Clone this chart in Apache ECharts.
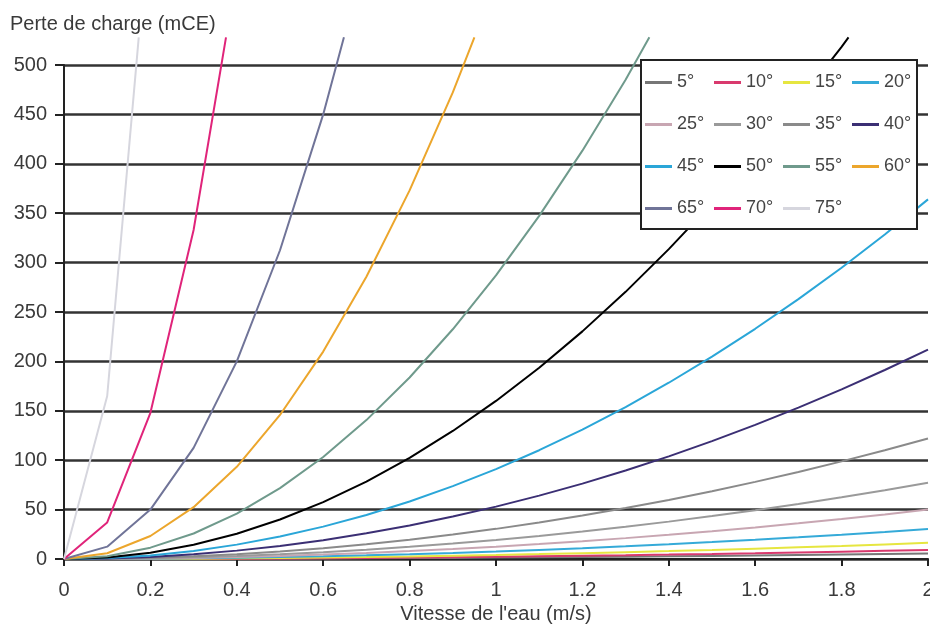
<!DOCTYPE html>
<html><head><meta charset="utf-8">
<script src="https://cdn.jsdelivr.net/npm/echarts@6/dist/echarts.min.js"></script>
<style>html,body{margin:0;padding:0;background:#fff}#c{width:930px;height:636px}</style>
</head><body><div id="c"></div>
<script>
// Vitesse de l'eau (m/s)
const vitesse = [0,0.1,0.2,0.3,0.4,0.5,0.6,0.7,0.8,0.9,1.0,1.1,1.2,1.3,1.4,1.5,1.6,1.7,1.8,1.9,2.0];
const degres = ['5°','10°','15°','20°','25°','30°','35°','40°','45°','50°','55°','60°','65°','70°','75°'];
// Perte de charge (mCE)
const p5  = [0,0.01,0.06,0.13,0.22,0.35,0.5,0.69,0.9,1.13,1.4,1.69,2.02,2.37,2.74,3.15,3.58,4.05,4.54,5.05,5.6];
const p10 = [0,0.02,0.09,0.21,0.37,0.58,0.83,1.13,1.47,1.86,2.3,2.78,3.31,3.89,4.51,5.18,5.89,6.65,7.45,8.3,9.2];
const p15 = [0,0.04,0.16,0.37,0.66,1.03,1.48,2.01,2.62,3.32,4.1,4.96,5.9,6.93,8.04,9.23,10.5,11.85,13.28,14.8,16.4];
const p20 = [0,0.08,0.3,0.68,1.22,1.9,2.74,3.72,4.86,6.16,7.6,9.2,10.94,12.84,14.9,17.1,19.46,21.96,24.62,27.44,30.4];
const p25 = [0,0.13,0.5,1.13,2,3.13,4.5,6.13,8,10.13,12.5,15.13,18,21.13,24.5,28.13,32,36.13,40.5,45.13,50];
const p30 = [0,0.19,0.77,1.74,3.09,4.83,6.95,9.46,12.35,15.63,19.3,23.35,27.79,32.62,37.83,43.43,49.41,55.78,62.53,69.67,77.2];
const p35 = [0,0.31,1.22,2.75,4.88,7.63,10.98,14.95,19.52,24.71,30.5,36.91,43.92,51.55,59.78,68.63,78.08,88.15,98.82,110.1,122];
const p40 = [0,0.53,2.12,4.77,8.48,13.25,19.08,25.97,33.92,42.93,53,64.13,76.32,89.57,103.9,119.3,135.7,153.2,171.7,191.3,212];
const p45 = [0,0.91,3.64,8.19,14.56,22.75,32.76,44.59,58.24,73.71,91,110.1,131,153.8,178.4,204.8,233,263,294.8,328.5,364];
const p50 = [0,1.6,6.4,14.4,25.6,40,57.6,78.4,102.4,129.6,160,193.6,230.4,270.4,313.6,360,409.6,462.4,518.4];
const p55 = [0,2.87,11.48,25.83,45.92,71.75,103.3,140.6,183.7,232.5,287,347.3,413.3,485];
const p60 = [0,5.83,23.32,52.47,93.28,145.8,209.9,285.7,373.1,472.2];
const p65 = [0,12.5,50,112.5,200,312.5,450];
const p70 = [0,37,148,333];
const p75 = [0,165];
// point where each steep curve leaves the top of the picture
const sortieX = [null,null,null,null,null,null,null,null,null,1.816,1.355,0.95,0.648,0.375,0.173];
const sortieY = 528;
const couleurs = ['#767676','#d93a6e','#e6e640','#35aad8','#c8a6b2','#9a9a9a','#8a8a8a','#3b2f74','#2aa6d8','#000000','#6f9a8c','#eca62c','#707498','#e0247a','#d6d6de'];
const yTicks = {min:0, max:500, step:50};
const xTicks = {min:0, max:2, step:0.2};

const valeurs = [p5,p10,p15,p20,p25,p30,p35,p40,p45,p50,p55,p60,p65,p70,p75];
const FONT = 'Liberation Sans, Arial, sans-serif';

const series = valeurs.map((vals, i) => {
  const data = vals.map((y, j) => [vitesse[j], y]);
  if (sortieX[i] !== null) data.push([sortieX[i], sortieY]);
  return {
    name: degres[i], type: 'line', data: data, symbol: 'none', clip: false,
    lineStyle: {color: couleurs[i], width: 2}, itemStyle: {color: couleurs[i]},
    emphasis: {disabled: true}, animation: false, z: 2
  };
});

const chart = echarts.init(document.getElementById('c'), null, {renderer: 'canvas'});
chart.setOption({
  animation: false,
  backgroundColor: '#ffffff',
  title: {text: 'Perte de charge (mCE)', left: 10, top: 14, padding: 0,
    textStyle: {fontFamily: FONT, fontSize: 20, fontWeight: 'normal', color: '#3a3a3a'}},
  grid: {left: 64, right: 2, top: 65, bottom: 77, containLabel: false, outerBoundsMode: 'none'},
  legend: {
    left: 641, top: 60, width: 272, padding: [5, 3, 3, 4],
    orient: 'horizontal', itemWidth: 27, itemHeight: 14, itemGap: 7,
    backgroundColor: '#ffffff', borderColor: '#222', borderWidth: 2,
    selectedMode: false, icon: 'path://M0,0 L10,0 L10,1.1 L0,1.1 Z',
    textStyle: {fontFamily: FONT, fontSize: 18, color: '#444', width: 30, lineHeight: 35},
    data: degres.map((d, i) => ({name: d, itemStyle: {color: couleurs[i]}})),
    z: 10
  },
  xAxis: {
    type: 'value', min: xTicks.min, max: xTicks.max, interval: xTicks.step,
    name: "Vitesse de l'eau (m/s)", nameLocation: 'middle', nameGap: 33,
    nameTextStyle: {fontFamily: FONT, fontSize: 20, color: '#3a3a3a', verticalAlign: 'top'},
    axisLine: {show: true, lineStyle: {color: '#222', width: 2}},
    axisTick: {show: true, length: 7, lineStyle: {color: '#222', width: 2}},
    axisLabel: {fontFamily: FONT, fontSize: 20, color: '#3a3a3a', margin: 21,
      formatter: v => String(Number(v.toFixed(1)))},
    splitLine: {show: false}
  },
  yAxis: {
    type: 'value', min: yTicks.min, max: yTicks.max, interval: yTicks.step,
    axisLine: {show: true, lineStyle: {color: '#222', width: 2}},
    axisTick: {show: true, length: 9, lineStyle: {color: '#222', width: 2}},
    axisLabel: {fontFamily: FONT, fontSize: 20, color: '#3a3a3a', margin: 17},
    splitLine: {show: true, lineStyle: {color: '#333', width: 2.5}}
  },
  series: series
});
</script></body></html>
